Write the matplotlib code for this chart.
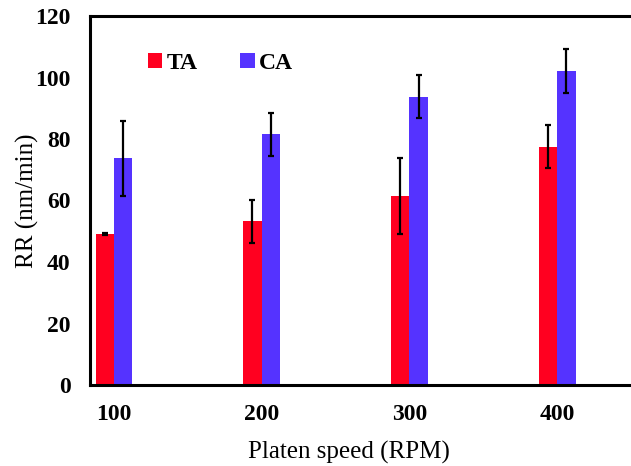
import matplotlib
matplotlib.use("Agg")
import matplotlib.pyplot as plt
import numpy as np

categories = ["100", "200", "300", "400"]
ta_values = [49.0, 53.3, 61.5, 77.5]
ta_errors = [0.3, 7.0, 12.3, 7.0]
ca_values = [73.8, 81.6, 93.8, 102.1]
ca_errors = [12.2, 7.0, 7.1, 7.2]
y_ticks = [0, 20, 40, 60, 80, 100, 120]

plt.rcParams['font.family'] = ['Liberation Serif', 'DejaVu Serif']

fig = plt.figure(figsize=(6.31, 4.66), dpi=100)
ax = fig.add_axes([90/631, 1-385/466, 1-90/631, (385-16)/466])

x = np.arange(len(categories))
w = 0.125
ax.bar(x - w/2, ta_values, w, color='#FF0020', label='TA',
       yerr=ta_errors, error_kw=dict(ecolor='black', elinewidth=1.6, capsize=2.5, capthick=1.6))
ax.bar(x + w/2, ca_values, w, color='#5533FF', label='CA',
       yerr=ca_errors, error_kw=dict(ecolor='black', elinewidth=1.6, capsize=2.5, capthick=1.6))

ax.set_xlim(-0.1625, 3.50)
ax.set_ylim(0, 120)
ax.set_yticks(y_ticks)
ax.set_xticks(x)
ax.set_xticklabels(categories)
ax.tick_params(axis='y', length=0, labelsize=17, pad=14)
ax.tick_params(axis='x', length=0, labelsize=17, pad=14)
for lab in ax.get_xticklabels() + ax.get_yticklabels():
    lab.set_fontweight('bold')

for s in ['left', 'bottom', 'top']:
    ax.spines[s].set_linewidth(2.2)
    ax.spines[s].set_color('black')
ax.spines['right'].set_visible(False)

ax.set_ylabel('RR (nm/min)', fontsize=18, labelpad=-3)
ax.set_xlabel('Platen speed (RPM)', fontsize=18)
ax.xaxis.set_label_coords(0.479, -0.152)

leg = ax.legend(loc='upper left', bbox_to_anchor=(0.068, 0.958), ncol=2, frameon=False,
                prop=dict(family='Liberation Serif', weight='bold', size=17),
                handlelength=0.6, handleheight=0.6, handletextpad=0.2, columnspacing=1.8)

fig.savefig('out.png', dpi=100)
